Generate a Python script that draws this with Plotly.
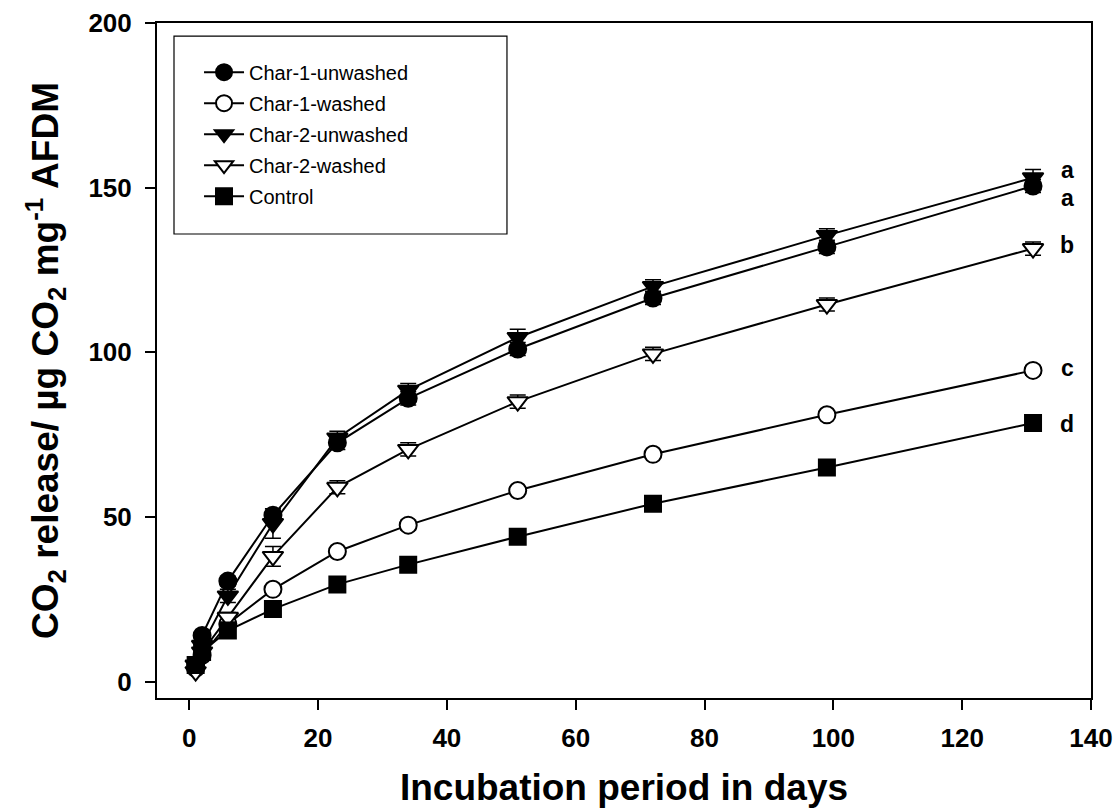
import plotly.graph_objects as go

days = [1, 2, 6, 13, 23, 34, 51, 72, 99, 131]

char1_unwashed = [5, 14, 30.5, 50.5, 72.5, 86, 101, 116.5, 132, 150.5]
char1_washed = [4, 8, 17.5, 28, 39.5, 47.5, 58, 69, 81, 94.5]
char2_unwashed = [5, 11, 26, 48, 74, 88.5, 104.5, 120, 135.5, 153]
char2_washed = [3, 9, 19.5, 38, 59, 70.5, 85, 99.5, 114.5, 131.5]
control = [5, 9, 15.5, 22, 29.5, 35.5, 44, 54, 65, 78.5]

err_char1_unwashed = [1, 1, 1.5, 1.5, 2, 2, 2, 2, 2, 2]
err_char1_washed = [0.5, 0.5, 1, 1, 1, 1.5, 1, 1, 1, 1.5]
err_char2_unwashed = [1, 1, 2, 4.5, 2, 2, 2.5, 2, 2, 2.5]
err_char2_washed = [0.5, 1, 1.5, 3, 2, 2, 2, 2, 2, 2]
err_control = [0.5, 0.5, 1, 1, 1, 1, 1, 1, 1, 1]

names = ["Char-1-unwashed", "Char-1-washed", "Char-2-unwashed", "Char-2-washed", "Control"]
series = [char1_unwashed, char1_washed, char2_unwashed, char2_washed, control]
errors = [err_char1_unwashed, err_char1_washed, err_char2_unwashed, err_char2_washed, err_control]
symbols = ["circle", "circle", "triangle-down", "triangle-down", "square"]
fills = ["black", "white", "black", "white", "black"]
sizes = [17, 17, 18, 18, 16]

sig_letters = ["a", "a", "b", "c", "d"]
sig_series = [2, 0, 3, 1, 4]  # which series each letter belongs to
sig_offsets = [2.5, -3.5, 1.2, 0.7, -0.3]

FONT = "Arial, Liberation Sans, sans-serif"

fig = go.Figure()
for name, ys, err, sym, fill, sz in zip(names, series, errors, symbols, fills, sizes):
    fig.add_trace(go.Scatter(
        x=days, y=ys, name=name, mode="lines+markers",
        legendgroup=name,
        line=dict(color="black", width=2),
        marker=dict(symbol=sym, size=sz, color=fill,
                    line=dict(color="black", width=2)),
        error_y=dict(type="data", array=err, visible=True, color="black", thickness=1.5, width=8),
    ))

for letter, si, off in zip(sig_letters, sig_series, sig_offsets):
    fig.add_annotation(x=136.3, y=series[si][-1] + off, text="<b>" + letter + "</b>",
                       showarrow=False, xref="x", yref="y",
                       font=dict(family=FONT, size=23, color="black"))

# legend frame
fig.add_shape(type="rect", xref="paper", yref="paper",
              x0=0.0182, x1=0.3747, y0=0.6874, y1=0.9807,
              line=dict(color="black", width=1.2), fillcolor="rgba(0,0,0,0)", layer="above")

fig.update_layout(
    width=1115, height=808,
    paper_bgcolor="white", plot_bgcolor="white",
    margin=dict(l=157, r=24, t=23, b=110),
    font=dict(family=FONT, color="black"),
    showlegend=True,
    legend=dict(x=0.045, y=0.956, xanchor="left", yanchor="top",
                bgcolor="rgba(0,0,0,0)", borderwidth=0,
                font=dict(family=FONT, size=20, color="black"),
                tracegroupgap=2, itemwidth=40),
    xaxis=dict(range=[-5, 140], tickmode="array", tickvals=[0, 20, 40, 60, 80, 100, 120, 140],
               ticks="outside", ticklen=10, tickwidth=1.5, tickcolor="black",
               showline=True, linecolor="black", linewidth=2, mirror=True,
               showgrid=False, zeroline=False, automargin=False,
               ticklabelstandoff=6, ticklabeloverflow="allow",
               tickfont=dict(family=FONT, size=26, color="black", weight="bold"),
               title=dict(text="<b>Incubation period in days</b>", standoff=26,
                          font=dict(family=FONT, size=37, color="black"))),
    yaxis=dict(range=[-5, 200], tickmode="array", tickvals=[0, 50, 100, 150, 200],
               ticks="outside", ticklen=10, tickwidth=1.5, tickcolor="black",
               showline=True, linecolor="black", linewidth=2, mirror=True,
               showgrid=False, zeroline=False, automargin=False,
               ticklabelstandoff=8, ticklabeloverflow="allow",
               tickfont=dict(family=FONT, size=26, color="black", weight="bold"),
               title=dict(text="<b>CO<sub>2</sub> release/ µg CO<sub>2</sub> mg<sup>-1</sup> AFDM</b>",
                          standoff=18,
                          font=dict(family=FONT, size=37, color="black"))),
)

fig.write_html("out.html", config={"displayModeBar": False},
               post_script="document.body.style.margin='0';document.body.style.overflow='hidden';")
